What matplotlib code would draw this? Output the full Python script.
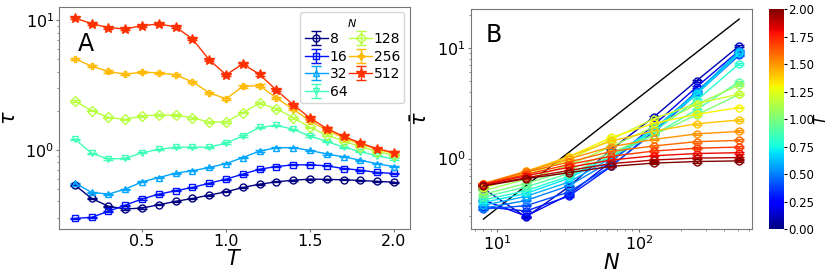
import matplotlib
matplotlib.use("Agg")
import matplotlib.pyplot as plt
import numpy as np

plt.rcParams.update({'font.size': 11.5})

T = [0.1, 0.2, 0.3, 0.4, 0.5, 0.6, 0.7, 0.8, 0.9, 1.0,
     1.1, 1.2, 1.3, 1.4, 1.5, 1.6, 1.7, 1.8, 1.9, 2.0]
N = [8, 16, 32, 64, 128, 256, 512]

# mean tau, one row per N, one column per T
tau_8 = [0.535, 0.422, 0.367, 0.350, 0.356, 0.377, 0.401, 0.422, 0.448, 0.475,
         0.513, 0.544, 0.567, 0.584, 0.595, 0.592, 0.588, 0.581, 0.571, 0.564]
tau_16 = [0.296, 0.302, 0.336, 0.375, 0.418, 0.456, 0.484, 0.513, 0.554, 0.595,
          0.650, 0.710, 0.744, 0.767, 0.767, 0.753, 0.718, 0.698, 0.670, 0.658]
tau_32 = [0.554, 0.470, 0.456, 0.498, 0.567, 0.612, 0.662, 0.690, 0.732, 0.785,
          0.873, 0.980, 1.04, 1.04, 0.99, 0.93, 0.883, 0.833, 0.780, 0.744]
tau_64 = [1.21, 0.94, 0.85, 0.86, 0.95, 1.01, 1.05, 1.05, 1.05, 1.13,
          1.28, 1.49, 1.55, 1.44, 1.28, 1.16, 1.05, 0.97, 0.90, 0.85]
tau_128 = [2.38, 2.01, 1.78, 1.72, 1.83, 1.86, 1.85, 1.77, 1.64, 1.64,
           1.94, 2.29, 2.08, 1.77, 1.49, 1.30, 1.17, 1.06, 0.97, 0.91]
tau_256 = [5.04, 4.43, 4.03, 3.84, 3.98, 3.93, 3.80, 3.35, 2.76, 2.48,
           3.09, 3.14, 2.51, 2.06, 1.67, 1.42, 1.24, 1.11, 1.01, 0.94]
tau_512 = [10.4, 9.43, 8.78, 8.58, 9.10, 9.37, 8.89, 7.18, 4.95, 3.80,
           4.61, 3.82, 2.89, 2.23, 1.76, 1.46, 1.27, 1.13, 1.02, 0.953]
tau = np.array([tau_8, tau_16, tau_32, tau_64, tau_128, tau_256, tau_512])

# relative error of each N (error bars are barely visible)
rel_err = [0.01, 0.01, 0.01, 0.01, 0.015, 0.02, 0.02]
err = tau * np.array(rel_err)[:, None]

markers = ['o', 's', '^', 'v', 'D', 'P', '*']
ref_coef = 0.0355  # black guide line tau = c * N

fig = plt.figure(figsize=(8.3, 2.76), dpi=100)
ax1 = fig.add_axes([0.071, 0.170, 0.423, 0.805])
ax2 = fig.add_axes([0.567, 0.170, 0.339, 0.797])
cax = fig.add_axes([0.926, 0.170, 0.019, 0.797])

cmap = plt.get_cmap('jet')

# panel A
for i, n in enumerate(N):
    c = cmap(i / 7)
    ms = 7 if markers[i] == '*' else 5
    ax1.errorbar(T, tau[i], yerr=err[i], color=c, marker=markers[i], ms=ms,
                 mfc=c if markers[i] == '*' else 'none', mec=c,
                 lw=1, capsize=3.5, label=str(n))
ax1.set_yscale('log')
ax1.set_xlabel('$T$', fontsize=15, labelpad=0)
ax1.set_ylabel(r'$\bar{\tau}$', fontsize=15, labelpad=4)
ax1.set_xticks([0.5, 1.0, 1.5, 2.0])
ax1.text(0.054, 0.80, 'A', transform=ax1.transAxes, fontsize=17)
leg = ax1.legend(title='$N$', ncol=2, loc='upper right', fontsize=10,
                 title_fontsize=8, handlelength=1.7, columnspacing=0.1,
                 handletextpad=0.1, labelspacing=0.25, borderpad=0.3,
                 borderaxespad=0.4)

# panel B
norm = plt.Normalize(0, 2)
for j, t in enumerate(T):
    c = cmap(norm(t))
    ax2.errorbar(N, tau[:, j], yerr=err[:, j], color=c, marker='o', ms=5,
                 mfc='none', mec=c, lw=1, capsize=3.5)
ax2.plot(N, ref_coef * np.array(N), color='k', lw=1)
ax2.set_xscale('log')
ax2.set_yscale('log')
ax2.set_xlabel('$N$', fontsize=15, labelpad=0)
ax2.set_ylabel(r'$\bar{\tau}$', fontsize=15, labelpad=4)
ax2.text(0.054, 0.85, 'B', transform=ax2.transAxes, fontsize=17)

for ax in (ax1, ax2):
    ax.tick_params(which='major', length=2, pad=1.5, color='#777777')
    ax.tick_params(which='minor', length=1.2, color='#777777')
    for s in ax.spines.values():
        s.set_color('#777777')

sm = plt.cm.ScalarMappable(norm=norm, cmap=cmap)
cb = fig.colorbar(sm, cax=cax)
cb.set_ticks([0, 0.25, 0.5, 0.75, 1.0, 1.25, 1.5, 1.75, 2.0])
cb.ax.tick_params(labelsize=8.5, length=2, pad=1)
cb.outline.set_visible(False)
cb.set_label('$T$', fontsize=11, labelpad=-1)

fig.savefig('out.png', dpi=100)
